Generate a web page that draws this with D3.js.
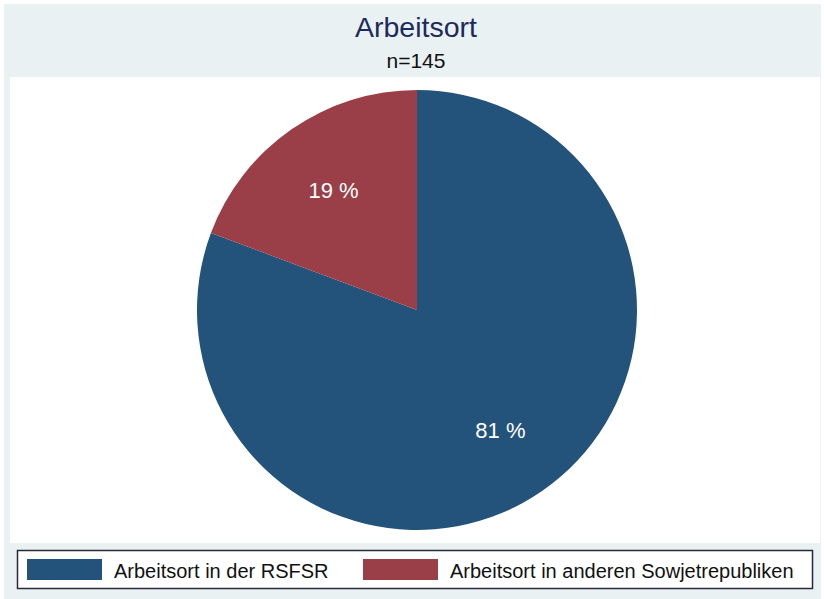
<!DOCTYPE html>
<html>
<head>
<meta charset="utf-8">
<script src="https://cdn.jsdelivr.net/npm/d3@7"></script>
<style>
  body { margin: 0; background: #fff; }
  svg { display: block; font-family: Arial, "Liberation Sans", sans-serif; }
</style>
</head>
<body>
<div id="container"></div>
<script>
// data
const categories = ["Arbeitsort in der RSFSR", "Arbeitsort in anderen Sowjetrepubliken"];
const counts = [117, 28];
const colors = ["#23527A", "#9A3F48"];
const title = "Arbeitsort";
const subtitle = "n=145";

const W = 824, H = 599;
const cx = 417, cy = 310, radius = 220;

const svg = d3
  .select("#container")
  .append("svg")
  .attr("width", W)
  .attr("height", H);

// outer background and plot region
svg.append("rect").attr("x", 4).attr("y", 4).attr("width", 817).attr("height", 595).attr("fill", "#E9F1F3");
svg.append("rect").attr("x", 10).attr("y", 77).attr("width", 810).attr("height", 466).attr("fill", "#fff");

// titles
svg.append("text")
  .attr("x", cx - 1).attr("y", 37)
  .attr("text-anchor", "middle")
  .attr("font-size", 28.5)
  .attr("fill", "#1C2A5C")
  .text(title);
svg.append("text")
  .attr("x", cx - 1).attr("y", 68)
  .attr("text-anchor", "middle")
  .attr("font-size", 21)
  .attr("fill", "#111")
  .text(subtitle);

// pie
const total = d3.sum(counts);
const data = categories.map((c, i) => ({ name: c, value: counts[i], color: colors[i] }));
const pie = d3.pie().sort(null).value((d) => d.value);
const arc = d3.arc().innerRadius(0).outerRadius(radius);
const labelArc = d3.arc().innerRadius(radius * 0.665).outerRadius(radius * 0.665);

const g = svg.append("g").attr("transform", `translate(${cx},${cy})`);
const arcs = pie(data);
g.selectAll("path")
  .data(arcs)
  .enter()
  .append("path")
  .attr("d", arc)
  .attr("fill", (d) => d.data.color);

g.selectAll(".pie-label")
  .data(arcs)
  .enter()
  .append("text")
  .attr("class", "pie-label")
  .attr("transform", (d) => `translate(${labelArc.centroid(d)})`)
  .attr("text-anchor", "middle")
  .attr("dy", "0.36em")
  .attr("font-size", 22)
  .attr("fill", "#fff")
  .text((d) => Math.round((d.data.value / total) * 100) + " %");

// legend
const legend = svg.append("g").attr("id", "legend");
legend.append("rect")
  .attr("x", 17.5).attr("y", 550.5)
  .attr("width", 795).attr("height", 38)
  .attr("fill", "#fff")
  .attr("stroke", "#2a2a3a")
  .attr("stroke-width", 1.5);

const keyX = [27, 363];
const item = legend.selectAll(".key")
  .data(data)
  .enter()
  .append("g")
  .attr("class", "key")
  .attr("transform", (d, i) => `translate(${keyX[i]},559)`);
item.append("rect")
  .attr("width", 75).attr("height", 21)
  .attr("fill", (d) => d.color);
item.append("text")
  .attr("x", 87).attr("y", 19)
  .attr("font-size", 20)
  .attr("fill", "#111")
  .text((d) => d.name);
</script>
</body>
</html>
